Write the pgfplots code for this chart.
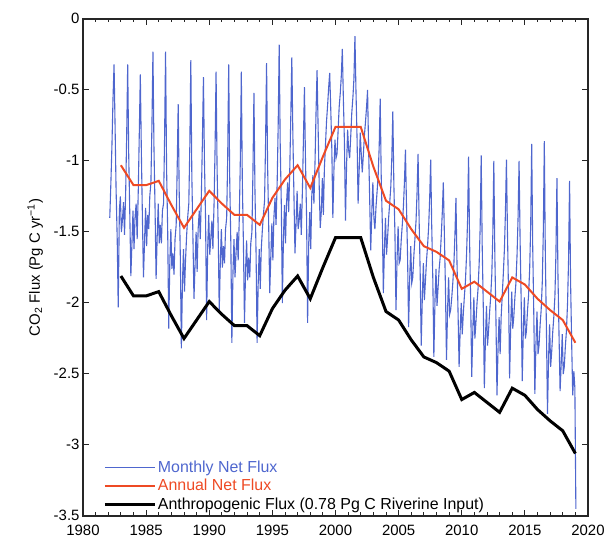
\documentclass[border=0pt]{standalone}
\usepackage{pgfplots}
\pgfplotsset{compat=1.18}
\usepackage{fontspec}
\setmainfont{Liberation Sans}
\definecolor{monthblue}{RGB}{78,102,206}
\definecolor{annred}{RGB}{238,74,36}
\begin{document}
\begin{tikzpicture}
\useasboundingbox (0,0) rectangle (608bp,547bp);
\begin{axis}[
  at={(83bp,31bp)}, anchor=south west,
  scale only axis, width=505bp, height=497bp,
  xmin=1980, xmax=2020, ymin=-3.5, ymax=0,
  xtick={1980,1985,1990,1995,2000,2005,2010,2015,2020},
  minor x tick num=4,
  ytick={-3.5,-3,-2.5,-2,-1.5,-1,-0.5,0},
  tick align=inside,
  major tick length=6bp, minor tick length=3.5bp,
  axis line style={line width=1.4bp, black!85},
  every tick/.style={black!85, line width=1bp},
  /pgf/number format/assume math mode=true,
  /pgf/number format/1000 sep={},
  ticklabel style={font=\fontsize{15}{17}\selectfont},
  xticklabel style={yshift=-5.5bp},
  yticklabel style={yshift=1bp},
  ylabel={CO\textsubscript{2} Flux (Pg C yr\textsuperscript{−1})},
  ylabel style={font=\fontsize{15}{17}\selectfont, yshift=4bp},
  legend style={draw=none, fill=none, at={(0.04,0.008)}, anchor=south west,
    font=\fontsize{16}{18}\selectfont, row sep=3bp, inner sep=0pt,
    nodes={inner xsep=1.5bp, inner ysep=1.2bp}},
  legend cell align=left,
  legend image code/.code={\draw[#1] (0bp,0bp) -- (50bp,0bp);},
]
\addplot[monthblue, line width=1.1bp] coordinates {
(1982.12,-1.40)(1982.21,-1.15)(1982.29,-0.90)(1982.38,-0.55)(1982.46,-0.32)(1982.54,-0.75)(1982.62,-1.20)(1982.71,-1.55)(1982.79,-2.03)(1982.88,-1.35)(1982.96,-1.25)(1983.04,-1.50)
(1983.12,-1.42)(1983.21,-1.29)(1983.29,-1.52)(1983.38,-1.22)(1983.46,-0.82)(1983.54,-0.32)(1983.62,-0.95)(1983.71,-1.39)(1983.79,-1.81)(1983.88,-1.57)(1983.96,-1.35)(1984.04,-1.62)
(1984.12,-1.40)(1984.21,-1.30)(1984.29,-1.55)(1984.38,-1.20)(1984.46,-0.80)(1984.54,-0.39)(1984.62,-0.92)(1984.71,-1.42)(1984.79,-1.82)(1984.88,-1.55)(1984.96,-1.33)(1985.04,-1.60)
(1985.12,-1.38)(1985.21,-1.48)(1985.29,-1.25)(1985.38,-1.15)(1985.46,-0.75)(1985.54,-0.23)(1985.62,-0.90)(1985.71,-1.35)(1985.79,-1.83)(1985.88,-1.52)(1985.96,-1.30)(1986.04,-1.58)
(1986.12,-1.45)(1986.21,-1.58)(1986.29,-1.35)(1986.38,-1.30)(1986.46,-0.85)(1986.54,-0.23)(1986.62,-1.05)(1986.71,-1.50)(1986.79,-2.18)(1986.88,-1.70)(1986.96,-1.48)(1987.04,-1.76)
(1987.12,-1.65)(1987.21,-1.80)(1987.29,-1.55)(1987.38,-1.45)(1987.46,-1.05)(1987.54,-0.60)(1987.62,-1.22)(1987.71,-1.68)(1987.79,-2.32)(1987.88,-1.85)(1987.96,-1.62)(1988.04,-1.92)
(1988.12,-1.70)(1988.21,-1.52)(1988.29,-1.40)(1988.38,-1.30)(1988.46,-0.90)(1988.54,-0.29)(1988.62,-1.10)(1988.71,-1.55)(1988.79,-1.97)(1988.88,-1.72)(1988.96,-1.50)(1989.04,-1.78)
(1989.12,-1.48)(1989.21,-1.35)(1989.29,-1.55)(1989.38,-1.22)(1989.46,-0.85)(1989.54,-0.41)(1989.62,-1.00)(1989.71,-1.42)(1989.79,-2.12)(1989.88,-1.60)(1989.96,-1.38)(1990.04,-1.66)
(1990.12,-1.55)(1990.21,-1.42)(1990.29,-1.62)(1990.38,-1.30)(1990.46,-0.92)(1990.54,-0.37)(1990.62,-1.05)(1990.71,-1.50)(1990.79,-2.06)(1990.88,-1.70)(1990.96,-1.48)(1991.04,-1.75)
(1991.12,-1.60)(1991.21,-1.72)(1991.29,-1.48)(1991.38,-1.40)(1991.46,-0.98)(1991.54,-0.32)(1991.62,-1.12)(1991.71,-1.58)(1991.79,-2.28)(1991.88,-1.78)(1991.96,-1.55)(1992.04,-1.82)
(1992.12,-1.65)(1992.21,-1.50)(1992.29,-1.70)(1992.38,-1.40)(1992.46,-1.00)(1992.54,-0.37)(1992.62,-1.15)(1992.71,-1.60)(1992.79,-2.14)(1992.88,-1.76)(1992.96,-1.56)(1993.04,-1.84)
(1993.12,-1.68)(1993.21,-1.82)(1993.29,-1.58)(1993.38,-1.50)(1993.46,-1.08)(1993.54,-0.52)(1993.62,-1.20)(1993.71,-1.66)(1993.79,-2.28)(1993.88,-1.85)(1993.96,-1.62)(1994.04,-1.90)
(1994.12,-1.62)(1994.21,-1.48)(1994.29,-1.38)(1994.38,-1.28)(1994.46,-0.88)(1994.54,-0.31)(1994.62,-1.02)(1994.71,-1.46)(1994.79,-1.93)(1994.88,-1.66)(1994.96,-1.44)(1995.04,-1.70)
(1995.12,-1.40)(1995.21,-1.26)(1995.29,-1.45)(1995.38,-1.15)(1995.46,-0.75)(1995.54,-0.18)(1995.62,-0.88)(1995.71,-1.32)(1995.79,-2.00)(1995.88,-1.53)(1995.96,-1.31)(1996.04,-1.58)
(1996.12,-1.30)(1996.21,-1.15)(1996.29,-1.36)(1996.38,-1.05)(1996.46,-0.68)(1996.54,-0.27)(1996.62,-0.80)(1996.71,-1.25)(1996.79,-1.65)(1996.88,-1.43)(1996.96,-1.21)(1997.04,-1.48)
(1997.12,-1.42)(1997.21,-1.30)(1997.29,-1.52)(1997.38,-1.20)(1997.46,-0.85)(1997.54,-0.48)(1997.62,-0.98)(1997.71,-1.40)(1997.79,-2.14)(1997.88,-1.58)(1997.96,-1.36)(1998.04,-1.62)
(1998.12,-1.25)(1998.21,-1.10)(1998.29,-1.30)(1998.38,-1.00)(1998.46,-0.65)(1998.54,-0.36)(1998.62,-0.75)(1998.71,-1.18)(1998.79,-1.47)(1998.88,-1.35)(1998.96,-1.12)(1999.04,-1.38)
(1999.12,-1.05)(1999.21,-0.88)(1999.29,-0.72)(1999.38,-0.60)(1999.46,-0.48)(1999.54,-0.38)(1999.62,-0.62)(1999.71,-0.92)(1999.79,-1.40)(1999.88,-1.05)(1999.96,-0.85)(2000.04,-0.98)
(2000.12,-0.95)(2000.21,-0.78)(2000.29,-0.62)(2000.38,-0.52)(2000.46,-0.40)(2000.54,-0.21)(2000.62,-0.55)(2000.71,-0.88)(2000.79,-1.42)(2000.88,-1.02)(2000.96,-0.78)(2001.04,-0.92)
(2001.12,-0.98)(2001.21,-0.82)(2001.29,-0.66)(2001.38,-0.55)(2001.46,-0.42)(2001.54,-0.12)(2001.62,-0.50)(2001.71,-0.85)(2001.79,-1.30)(2001.88,-1.05)(2001.96,-0.80)(2002.04,-0.95)
(2002.12,-1.08)(2002.21,-0.95)(2002.29,-0.82)(2002.38,-0.72)(2002.46,-0.62)(2002.54,-0.50)(2002.62,-0.90)(2002.71,-1.28)(2002.79,-1.63)(2002.88,-1.35)(2002.96,-1.15)(2003.04,-1.40)
(2003.12,-1.48)(2003.21,-1.32)(2003.29,-1.22)(2003.38,-1.10)(2003.46,-0.90)(2003.54,-0.56)(2003.62,-1.10)(2003.71,-1.45)(2003.79,-1.93)(2003.88,-1.60)(2003.96,-1.40)(2004.04,-1.66)
(2004.12,-1.55)(2004.21,-1.40)(2004.29,-1.30)(2004.38,-1.18)(2004.46,-0.98)(2004.54,-0.65)(2004.62,-1.15)(2004.71,-1.52)(2004.79,-2.05)(2004.88,-1.68)(2004.96,-1.46)(2005.04,-1.72)
(2005.12,-1.70)(2005.21,-1.55)(2005.29,-1.45)(2005.38,-1.32)(2005.46,-1.15)(2005.54,-0.92)(2005.62,-1.30)(2005.71,-1.68)(2005.79,-2.17)(2005.88,-1.82)(2005.96,-1.60)(2006.04,-1.86)
(2006.12,-1.82)(2006.21,-1.66)(2006.29,-1.55)(2006.38,-1.42)(2006.46,-1.22)(2006.54,-0.95)(2006.62,-1.40)(2006.71,-1.80)(2006.79,-2.30)(2006.88,-1.95)(2006.96,-1.72)(2007.04,-1.98)
(2007.12,-1.85)(2007.21,-1.70)(2007.29,-1.60)(2007.38,-1.46)(2007.46,-1.26)(2007.54,-0.99)(2007.62,-1.45)(2007.71,-1.84)(2007.79,-2.38)(2007.88,-1.98)(2007.96,-1.76)(2008.04,-2.02)
(2008.12,-1.90)(2008.21,-1.76)(2008.29,-1.68)(2008.38,-1.52)(2008.46,-1.36)(2008.54,-1.15)(2008.62,-1.50)(2008.71,-1.90)(2008.79,-2.40)(2008.88,-2.04)(2008.96,-1.82)(2009.04,-2.08)
(2009.12,-2.05)(2009.21,-1.96)(2009.29,-1.86)(2009.38,-1.72)(2009.46,-1.52)(2009.54,-1.26)(2009.62,-1.70)(2009.71,-2.08)(2009.79,-2.45)(2009.88,-2.18)(2009.96,-2.00)(2010.04,-2.22)
(2010.12,-2.08)(2010.21,-1.95)(2010.29,-1.85)(2010.38,-1.66)(2010.46,-1.42)(2010.54,-0.97)(2010.62,-1.56)(2010.71,-2.00)(2010.79,-2.52)(2010.88,-2.18)(2010.96,-1.96)(2011.04,-2.25)
(2011.12,-2.14)(2011.21,-2.00)(2011.29,-1.90)(2011.38,-1.72)(2011.46,-1.46)(2011.54,-0.96)(2011.62,-1.60)(2011.71,-2.05)(2011.79,-2.60)(2011.88,-2.24)(2011.96,-2.02)(2012.04,-2.30)
(2012.12,-2.20)(2012.21,-2.06)(2012.29,-1.96)(2012.38,-1.80)(2012.46,-1.52)(2012.54,-1.00)(2012.62,-1.66)(2012.71,-2.12)(2012.79,-2.65)(2012.88,-2.30)(2012.96,-2.10)(2013.04,-2.36)
(2013.12,-2.10)(2013.21,-1.94)(2013.29,-1.80)(2013.38,-1.62)(2013.46,-1.36)(2013.54,-0.99)(2013.62,-1.50)(2013.71,-1.95)(2013.79,-2.53)(2013.88,-2.15)(2013.96,-1.92)(2014.04,-2.18)
(2014.12,-2.10)(2014.21,-1.96)(2014.29,-1.86)(2014.38,-1.66)(2014.46,-1.40)(2014.54,-1.00)(2014.62,-1.55)(2014.71,-2.00)(2014.79,-2.55)(2014.88,-2.18)(2014.96,-1.96)(2015.04,-2.25)
(2015.12,-2.20)(2015.21,-2.05)(2015.29,-1.95)(2015.38,-1.76)(2015.46,-1.46)(2015.54,-0.88)(2015.62,-1.60)(2015.71,-2.10)(2015.79,-2.64)(2015.88,-2.28)(2015.96,-2.06)(2016.04,-2.36)
(2016.12,-2.30)(2016.21,-2.15)(2016.29,-2.05)(2016.38,-1.85)(2016.46,-1.50)(2016.54,-0.86)(2016.62,-1.66)(2016.71,-2.20)(2016.79,-2.78)(2016.88,-2.38)(2016.96,-2.15)(2017.04,-2.45)
(2017.12,-2.35)(2017.21,-2.20)(2017.29,-2.10)(2017.38,-1.95)(2017.46,-1.65)(2017.54,-1.12)(2017.62,-1.80)(2017.71,-2.25)(2017.79,-2.62)(2017.88,-2.42)(2017.96,-2.22)(2018.04,-2.50)
(2018.12,-2.45)(2018.21,-2.30)(2018.29,-2.20)(2018.38,-2.00)(2018.46,-1.70)(2018.54,-1.14)(2018.62,-1.85)(2018.71,-2.30)(2018.79,-2.65)(2018.88,-2.48)(2018.96,-2.60)(2019.04,-3.45)
};
\addlegendentry{\textcolor{monthblue}{Monthly Net Flux}}
\addplot[annred, line width=2bp] coordinates {
(1983,-1.03)(1984,-1.17)(1985,-1.17)(1986,-1.14)(1987,-1.31)(1988,-1.47)(1989,-1.34)(1990,-1.21)(1991,-1.30)(1992,-1.38)(1993,-1.38)(1994,-1.45)(1995,-1.26)(1996,-1.13)(1997,-1.03)(1998,-1.19)(1999,-0.97)(2000,-0.76)(2001,-0.76)(2002,-0.76)(2003,-1.04)(2004,-1.28)(2005,-1.34)(2006,-1.48)(2007,-1.60)(2008,-1.64)(2009,-1.70)(2010,-1.90)(2011,-1.85)(2012,-1.92)(2013,-1.99)(2014,-1.82)(2015,-1.87)(2016,-1.97)(2017,-2.05)(2018,-2.12)(2019,-2.28)
};
\addlegendentry{\textcolor{annred}{Annual Net Flux}}
\addplot[black, line width=3bp] coordinates {
(1983,-1.81)(1984,-1.95)(1985,-1.95)(1986,-1.92)(1987,-2.09)(1988,-2.25)(1989,-2.12)(1990,-1.99)(1991,-2.08)(1992,-2.16)(1993,-2.16)(1994,-2.23)(1995,-2.04)(1996,-1.91)(1997,-1.81)(1998,-1.97)(1999,-1.75)(2000,-1.54)(2001,-1.54)(2002,-1.54)(2003,-1.82)(2004,-2.06)(2005,-2.12)(2006,-2.26)(2007,-2.38)(2008,-2.42)(2009,-2.48)(2010,-2.68)(2011,-2.63)(2012,-2.70)(2013,-2.77)(2014,-2.60)(2015,-2.65)(2016,-2.75)(2017,-2.83)(2018,-2.90)(2019,-3.06)
};
\addlegendentry{Anthropogenic Flux (0.78 Pg C Riverine Input)}
\end{axis}
\end{tikzpicture}
\end{document}
